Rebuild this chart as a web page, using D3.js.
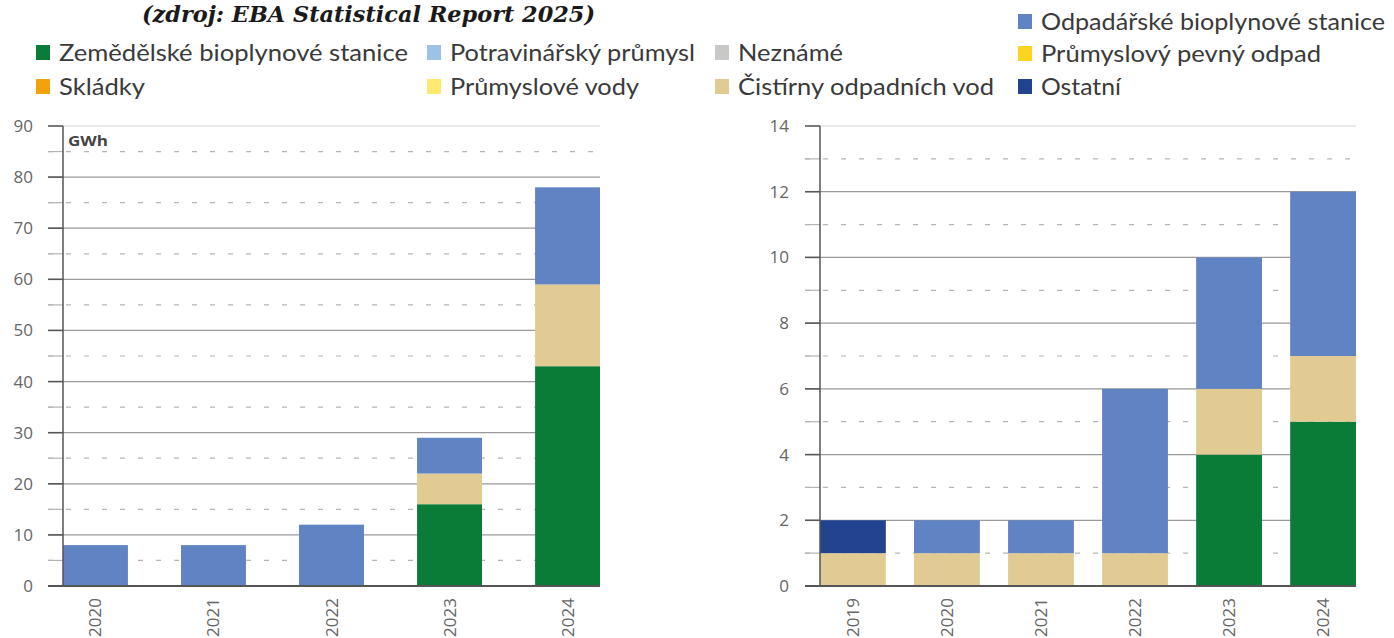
<!DOCTYPE html>
<html><head><meta charset="utf-8">
<script src="https://cdn.jsdelivr.net/npm/d3@7"></script>
<style>body{margin:0;background:#fff;} svg{display:block;}</style>
</head><body>
<svg id="c" width="1394" height="638"></svg>
<script>
// ---- data ----
const seriesNames = ["Zemědělské bioplynové stanice","Potravinářský průmysl","Neznámé","Skládky","Průmyslové vody","Čistírny odpadních vod","Odpadářské bioplynové stanice","Průmyslový pevný odpad","Ostatní"];
const seriesColors = ["#0a7c38","#9dc2e8","#c9c8c6","#f4a20c","#fdea6e","#e2cb93","#5f83c3","#fdd51f","#22438f"];
const stackOrder = ["Zemědělské bioplynové stanice","Čistírny odpadních vod","Ostatní","Odpadářské bioplynové stanice"];

const leftYears = ["2020","2021","2022","2023","2024"];
const leftAgri  = [0,0,0,16,43];
const leftWwtp  = [0,0,0,6,16];
const leftOther = [0,0,0,0,0];
const leftWaste = [8,8,12,7,19];
const leftTicks = [0,10,20,30,40,50,60,70,80,90];
const leftMinor = [5,15,25,35,45,55,65,75,85];

const rightYears = ["2019","2020","2021","2022","2023","2024"];
const rightAgri  = [0,0,0,0,4,5];
const rightWwtp  = [1,1,1,1,2,2];
const rightOther = [1,0,0,0,0,0];
const rightWaste = [0,1,1,5,4,5];
const rightTicks = [0,2,4,6,8,10,12,14];
const rightMinor = [1,3,5,7,9,11,13];

const titleText = "(zdroj: EBA Statistical Report 2025)";
const unitLabel = "GWh";

const svg = d3.select("#c");
const color = d3.scaleOrdinal(seriesNames, seriesColors);

// title
svg.append("text").attr("x",142).attr("y",22)
  .attr("font-family","DejaVu Serif").attr("font-weight","bold").attr("font-style","italic")
  .attr("font-size",23).attr("fill","#1a1a1a")
  .attr("textLength",453).attr("lengthAdjust","spacingAndGlyphs")
  .text(titleText);

// legend
const legendPos = [
  [36,53],[427,53],[715,53],
  [36,87],[427,87],[715,87],
  [1018,22],[1018,54],[1018,87]
];
const legendW = [349,245,105,86,189,256,344,280,80];
seriesNames.forEach((n,i)=>{
  const [x,y]=legendPos[i];
  svg.append("rect").attr("x",x).attr("y",y-8).attr("width",14).attr("height",15).attr("fill",seriesColors[i]);
  svg.append("text").attr("x",x+23).attr("y",y+8)
    .attr("font-family","Lato, 'Open Sans', sans-serif").attr("font-size",23).attr("fill","#3a3a3a")
    .attr("textLength",legendW[i]).attr("lengthAdjust","spacingAndGlyphs")
    .text(n);
});

function drawChart(cfg){
  const {years, agri, wwtp, other, waste, ticks, minor, max, x0, x1, y0, y1, padInner, labelX, unit} = cfg;
  const g = svg.append("g");
  const x = d3.scaleBand().domain(years).range([x0,x1]).paddingInner(padInner).paddingOuter(0);
  const y = d3.scaleLinear().domain([0,max]).range([y0,y1]);
  const gridLeft = x0-15;

  // minor dashed lines
  g.selectAll(".minor").data(minor).join("line")
    .attr("x1",gridLeft).attr("x2",x1).attr("y1",d=>y(d)).attr("y2",d=>y(d))
    .attr("stroke","#b5b5b5").attr("stroke-width",1.2).attr("stroke-dasharray","5,13");
  g.selectAll(".minortick").data(minor).join("line")
    .attr("x1",gridLeft).attr("x2",x0).attr("y1",d=>y(d)).attr("y2",d=>y(d))
    .attr("stroke","#b5b5b5").attr("stroke-width",1.2);
  // major grid
  g.selectAll(".major").data(ticks.filter(t=>t>0)).join("line")
    .attr("x1",gridLeft).attr("x2",x1).attr("y1",d=>y(d)).attr("y2",d=>y(d))
    .attr("stroke",d=>d===max?"#d6d6d6":"#9a9a9a").attr("stroke-width",1.2);
  g.selectAll(".majortick").data(ticks.filter(t=>t>0)).join("line")
    .attr("x1",gridLeft).attr("x2",x0).attr("y1",d=>y(d)).attr("y2",d=>y(d))
    .attr("stroke","#555").attr("stroke-width",1.5);

  // stacked bars
  const rows = years.map((yr,i)=>({year:yr,
    "Zemědělské bioplynové stanice":agri[i],
    "Čistírny odpadních vod":wwtp[i],
    "Ostatní":other[i],
    "Odpadářské bioplynové stanice":waste[i]}));
  const stack = d3.stack().keys(stackOrder)(rows);
  g.selectAll(".layer").data(stack).join("g").attr("fill",d=>color(d.key))
    .selectAll("rect").data(d=>d.filter(s=>s[1]>s[0])).join("rect")
    .attr("x",d=>x(d.data.year)).attr("width",x.bandwidth())
    .attr("y",d=>y(d[1])).attr("height",d=>y(d[0])-y(d[1]));

  // axes lines
  g.append("line").attr("x1",x0).attr("x2",x0).attr("y1",y1).attr("y2",y0).attr("stroke","#555").attr("stroke-width",1.5);
  g.append("line").attr("x1",gridLeft).attr("x2",x1).attr("y1",y0).attr("y2",y0).attr("stroke","#555").attr("stroke-width",2);

  // tick labels
  g.selectAll(".tl").data(ticks).join("text")
    .attr("x",labelX).attr("y",d=>y(d)+6).attr("text-anchor","end")
    .attr("font-family","'Open Sans', sans-serif").attr("font-size",17).attr("fill","#666")
    .text(d=>d);
  // year labels
  g.selectAll(".yl").data(years).join("text")
    .attr("transform",d=>`translate(${x(d)+x.bandwidth()/2+6},${y0+12}) rotate(-90)`)
    .attr("text-anchor","end")
    .attr("font-family","'Open Sans', sans-serif").attr("font-size",17).attr("fill","#666")
    .text(d=>d);
  if(unit){
    g.append("text").attr("x",x0+5).attr("y",y1+20)
      .attr("font-family","'Open Sans', sans-serif").attr("font-weight","bold").attr("font-size",15).attr("fill","#444")
      .attr("textLength",40).attr("lengthAdjust","spacingAndGlyphs")
      .text(unit);
  }
}

drawChart({years:leftYears, agri:leftAgri, wwtp:leftWwtp, other:leftOther, waste:leftWaste,
  ticks:leftTicks, minor:leftMinor, max:90, x0:63, x1:600, y0:586, y1:126, padInner:0.45, labelX:33, unit:unitLabel});
drawChart({years:rightYears, agri:rightAgri, wwtp:rightWwtp, other:rightOther, waste:rightWaste,
  ticks:rightTicks, minor:rightMinor, max:14, x0:820, x1:1356, y0:586, y1:126, padInner:0.3, labelX:789, unit:null});
</script>
</body></html>
